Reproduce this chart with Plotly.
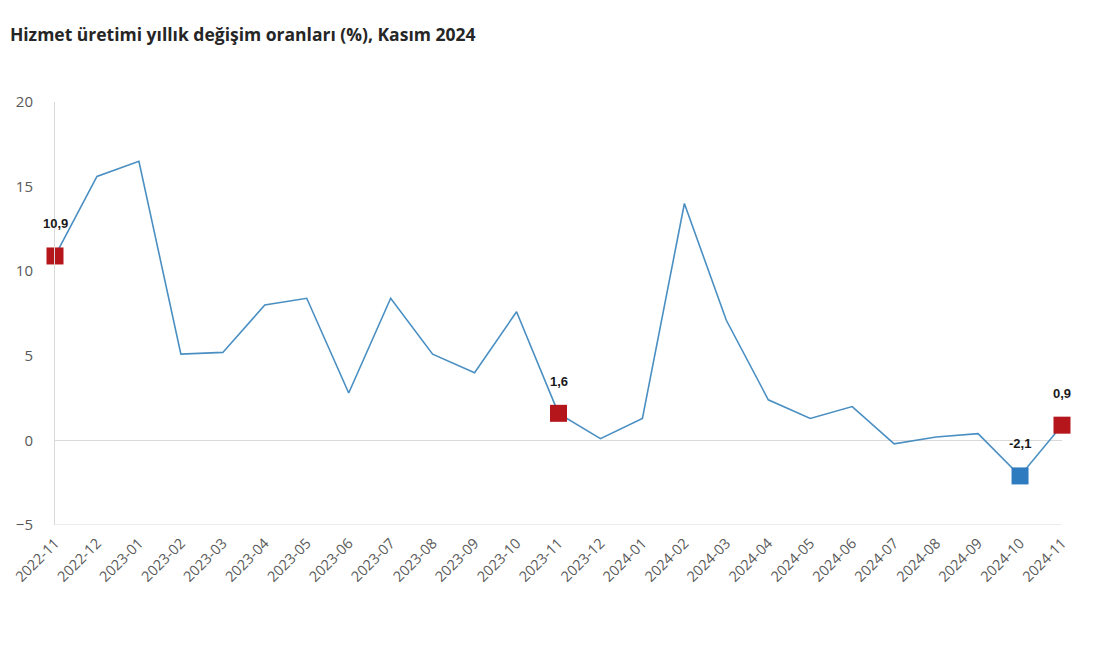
import plotly.graph_objects as go

months = ["2022-11","2022-12","2023-01","2023-02","2023-03","2023-04","2023-05","2023-06",
          "2023-07","2023-08","2023-09","2023-10","2023-11","2023-12","2024-01","2024-02",
          "2024-03","2024-04","2024-05","2024-06","2024-07","2024-08","2024-09","2024-10","2024-11"]
values = [10.9, 15.6, 16.5, 5.1, 5.2, 8.0, 8.4, 2.8, 8.4, 5.1, 4.0, 7.6, 1.6, 0.1, 1.3, 14.0,
          7.1, 2.4, 1.3, 2.0, -0.2, 0.2, 0.4, -2.1, 0.9]
highlight_months = ["2022-11", "2023-11", "2024-10", "2024-11"]
highlight_colors = ["#b4161c", "#b4161c", "#2e7bc0", "#b4161c"]
highlight_labels = ["10,9", "1,6", "-2,1", "0,9"]
yticks = [-5, 0, 5, 10, 15, 20]

xs = list(range(len(months)))
hx = [months.index(m) for m in highlight_months]
hy = [values[i] for i in hx]

fig = go.Figure()
fig.add_trace(go.Scatter(x=xs, y=values, mode="lines",
                         line=dict(color="#4a8fc2", width=1.6), cliponaxis=False,
                         hoverinfo="skip"))
fig.add_trace(go.Scatter(x=hx, y=hy, mode="markers",
                         marker=dict(symbol="square", size=17, color=highlight_colors,
                                     line=dict(width=0)),
                         cliponaxis=False))
for x, y, t in zip(hx, hy, highlight_labels):
    fig.add_annotation(x=x, y=y, text="<b>" + t + "</b>", showarrow=False, yshift=32,
                       font=dict(family="Liberation Sans, Arial", size=13, color="#1a1a1a"))

fig.update_layout(
    width=1100, height=650,
    paper_bgcolor="white", plot_bgcolor="white",
    showlegend=False,
    margin=dict(l=55, r=38, t=102, b=125),
    title=dict(text="<b>Hizmet üretimi yıllık değişim oranları (%), Kasım 2024</b>",
               x=0.009, xanchor="left", y=0.946, yanchor="middle",
               font=dict(family="Open Sans, DejaVu Sans", size=17.5, color="#262626")),
    separators=",.",
)
fig.update_xaxes(range=[0, len(months) - 1], tickmode="array", tickvals=xs, ticktext=months,
                 tickangle=-45, showgrid=False, zeroline=False, showline=False,
                 tickfont=dict(family="Open Sans, DejaVu Sans", size=14.5, color="#595959"),
                 ticks="", ticklabelstandoff=6)
fig.update_yaxes(range=[-5, 20], tickvals=yticks, showgrid=False,
                 zeroline=True, zerolinecolor="#d9d9d9", zerolinewidth=1,
                 showline=True, linecolor="#d9d9d9", linewidth=1, mirror=False,
                 tickfont=dict(family="Open Sans, DejaVu Sans", size=15, color="#595959"),
                 ticks="", ticklabelstandoff=18)
# bottom axis line at -5
fig.add_shape(type="line", xref="x", yref="y", x0=0, x1=len(months) - 1, y0=-5, y1=-5,
              line=dict(color="#d9d9d9", width=1), layer="below")

fig.write_html("out.html")
